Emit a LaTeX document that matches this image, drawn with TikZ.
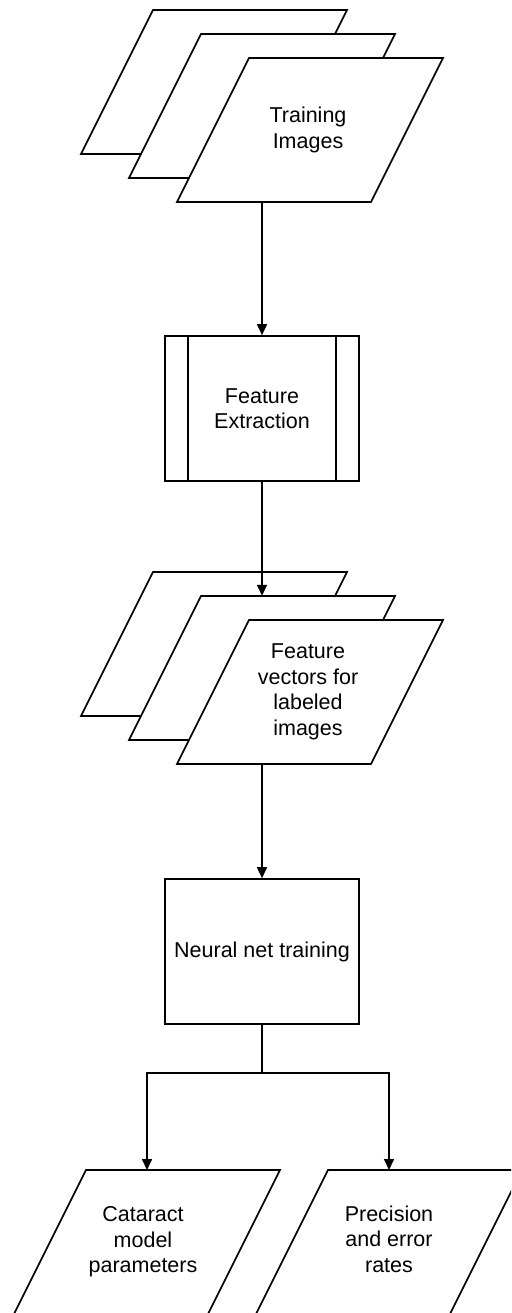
\documentclass[tikz,border=0pt]{standalone}
\usepackage{fontspec}
\setmainfont{Liberation Sans}
\usetikzlibrary{arrows.meta}

\tikzset{
  sheet/.pic={\draw[line width=1.6pt, fill=white] (-61,-72) -- (133,-72) -- (61,72) -- (-133,72) -- cycle;},
  page/.style={rectangle, minimum width=194pt, minimum height=144pt, inner sep=0pt,
    align=center, font=\fontsize{21.5}{25.5}\selectfont},
  box/.style={rectangle, draw, line width=1.6pt, minimum width=194pt,
    minimum height=145pt, inner sep=0pt, align=center,
    font=\fontsize{21.5}{25.5}\selectfont},
  flow/.style={line width=1.6pt, -{Triangle[width=10pt,length=11pt]}}
}

\begin{document}
\begin{tikzpicture}[x=1pt,y=-1pt]
    \useasboundingbox (0,0) rectangle (511,1313);
    \clip (0,0) rectangle (511,1313);

    % 训练图像 (三张叠放)
    \pic at (214,82) {sheet};
    \node[page] (train1) at (214,82) {};
    \pic at (262,106) {sheet};
    \node[page] (train2) at (262,106) {};
    \pic at (310,130) {sheet};
    \node[page] (train3) at (308,130) {Training\\Images};

    % 特征提取 (预定义过程)
    \node[box] (extract) at (262,408.5) {Feature\\Extraction};
    \draw[line width=1.6pt] ([xshift=24pt]extract.north west) -- ([xshift=24pt]extract.south west);
    \draw[line width=1.6pt] ([xshift=-24pt]extract.north east) -- ([xshift=-24pt]extract.south east);

    % 特征向量 (三张叠放)
    \pic at (214,644) {sheet};
    \node[page] (feat1) at (214,644) {};
    \pic at (262,668) {sheet};
    \node[page] (feat2) at (262,668) {};
    \pic at (310,692) {sheet};
    \node[page] (feat3) at (308,692) {Feature\\vectors for\\labeled\\images};

    % 神经网络训练
    \node[box] (nnet) at (262,951.5) {Neural net training};

    % 输出
    \pic at (147,1242) {sheet};
    \node[page] (model) at (143,1242) {Cataract\\model\\parameters};
    \pic at (389,1242) {sheet};
    \node[page] (rates) at (389,1239) {Precision\\and error\\rates};

    % 箭头
    \draw[flow] (extract.north |- train3.south) -- (extract.north);
    \draw[flow] (extract.south) -- (extract.south |- feat2.north);
    \draw[flow] (nnet.north |- feat3.south) -- (nnet.north);

    % 分叉
    \coordinate (split) at (262,1073);
    \draw[line width=1.6pt] (nnet.south) -- (split);
    \draw[flow] (split) -| (147,1170);
    \draw[flow] (split) -| (389,1170);
\end{tikzpicture}
\end{document}
